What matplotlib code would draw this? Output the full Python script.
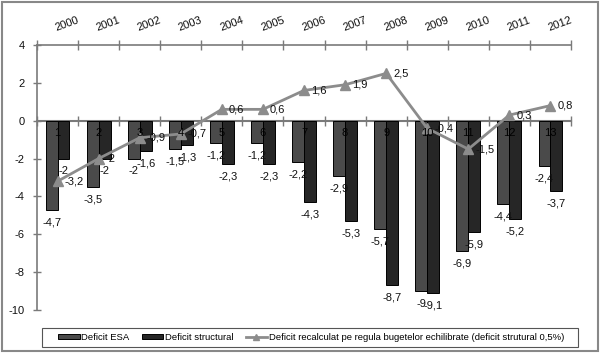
import matplotlib
matplotlib.use("Agg")
import matplotlib.pyplot as plt
import numpy as np
from matplotlib.patches import Rectangle
from matplotlib.lines import Line2D
from matplotlib.patches import Patch

plt.rcParams['font.family'] = ['Liberation Sans', 'DejaVu Sans']

years = ['2000', '2001', '2002', '2003', '2004', '2005', '2006',
         '2007', '2008', '2009', '2010', '2011', '2012']
cat_numbers = ['1', '2', '3', '4', '5', '6', '7', '8', '9', '10', '11', '12', '13']
deficit_esa = [-4.7, -3.5, -2, -1.5, -1.2, -1.2, -2.2, -2.9, -5.7, -9, -6.9, -4.4, -2.4]
deficit_struct = [-2, -2, -1.6, -1.3, -2.3, -2.3, -4.3, -5.3, -8.7, -9.1, -5.9, -5.2, -3.7]
deficit_recalc = [-3.2, -2, -0.9, -0.7, 0.6, 0.6, 1.6, 1.9, 2.5, -0.4, -1.5, 0.3, 0.8]
yticks = [4, 2, 0, -2, -4, -6, -8, -10]

def fmt(v):
    s = ('%g' % v).replace('.', ',')
    return s

c_esa = '#4a4a4a'
c_str = '#262626'
c_line = '#8c8c8c'
c_axis = '#7a7a7a'
txt = '#111111'

fig = plt.figure(figsize=(6.0, 3.53), dpi=100)
ax = fig.add_axes([37/600, 1-310/353, 534/600, (310-45)/353])

n = len(years)
x = np.arange(n)
w = 0.29
ax.bar(x - w/2, deficit_esa, width=w, color=c_esa, edgecolor='black', linewidth=0.7, zorder=2)
ax.bar(x + w/2, deficit_struct, width=w, color=c_str, edgecolor='black', linewidth=0.7, zorder=2)
ax.plot(x, deficit_recalc, color=c_line, lw=2, marker='^', markersize=7,
        markerfacecolor=c_line, markeredgecolor=c_line, zorder=4)

ax.set_xlim(-0.5, n - 0.5)
ax.set_ylim(-10, 4)

# spines
for s in ['right', 'bottom']:
    ax.spines[s].set_visible(False)
ax.spines['left'].set_color(c_axis)
ax.spines['top'].set_color(c_axis)
ax.spines['left'].set_linewidth(1.2)
ax.spines['top'].set_linewidth(1.2)

ax.set_yticks(yticks)
ax.set_yticklabels([str(t) for t in yticks], fontsize=8, color=txt)
ax.tick_params(axis='y', direction='inout', length=6, color=c_axis, width=1, pad=6)

# top axis: ticks at category boundaries
ax.xaxis.tick_top()
bounds = np.arange(n + 1) - 0.5
ax.set_xticks(bounds)
ax.set_xticklabels([])
ax.tick_params(axis='x', direction='inout', length=7, color=c_axis, width=1)

# zero axis line
sec = ax.secondary_xaxis(10/14)
sec.set_xticks(bounds)
sec.set_xticklabels([])
sec.tick_params(direction='inout', length=7, color=c_axis, width=1)
sec.spines['bottom'].set_color(c_axis)
sec.spines['bottom'].set_linewidth(1.5)
sec.spines['top'].set_color(c_axis)
sec.spines['top'].set_linewidth(1.5)

# year labels
for xi, yr in zip(x, years):
    ax.annotate(yr, xy=(xi, 1.0), xycoords=('data', 'axes fraction'),
                xytext=(7, 15), textcoords='offset points', ha='center', va='center',
                rotation=20, fontsize=8, color=txt)

# category numbers
for xi, cn in zip(x, cat_numbers):
    ax.annotate(cn, xy=(xi, 0), xytext=(0, -9), textcoords='offset points',
                ha='center', va='center', fontsize=8, color='black', zorder=5)

# bar labels
for xi, v in zip(x, deficit_esa):
    ax.annotate(fmt(v), xy=(xi - w/2, v), xytext=(0, -9), textcoords='offset points',
                ha='center', va='center', fontsize=8, color=txt, zorder=5)
for xi, v in zip(x, deficit_struct):
    ax.annotate(fmt(v), xy=(xi + w/2, v), xytext=(0, -9), textcoords='offset points',
                ha='center', va='center', fontsize=8, color=txt, zorder=5)
for xi, v in zip(x, deficit_recalc):
    ax.annotate(fmt(v), xy=(xi, v), xytext=(5, 0), textcoords='offset points',
                ha='left', va='center', fontsize=8, color=txt, zorder=5)

# legend frame
fig.patches.append(Rectangle((42/600, 1-347/353), 536/600, 19/353, transform=fig.transFigure,
                             fill=False, edgecolor='#555555', linewidth=0.8))
# legend
handles = [Patch(facecolor=c_esa, edgecolor='black', linewidth=0.7),
           Patch(facecolor=c_str, edgecolor='black', linewidth=0.7),
           Line2D([], [], color=c_line, lw=2, marker='^', markersize=5)]
labels = ['Deficit ESA', 'Deficit structural',
          'Deficit recalculat pe regula bugetelor echilibrate (deficit strutural 0,5%)']
leg = fig.legend(handles, labels, ncol=3,
                 bbox_to_anchor=(311/600, 1-337.5/353), loc='center',
                 fontsize=6.8, frameon=False,
                 handlelength=2.3, handleheight=0.5, handletextpad=0.15,
                 borderpad=0.0, columnspacing=1.3)

# outer border
fig.patches.append(Rectangle((2/600, 2/353), 596/600, 349/353, transform=fig.transFigure,
                             fill=False, edgecolor='#888888', linewidth=1.5))

fig.savefig('out.png', dpi=100)
